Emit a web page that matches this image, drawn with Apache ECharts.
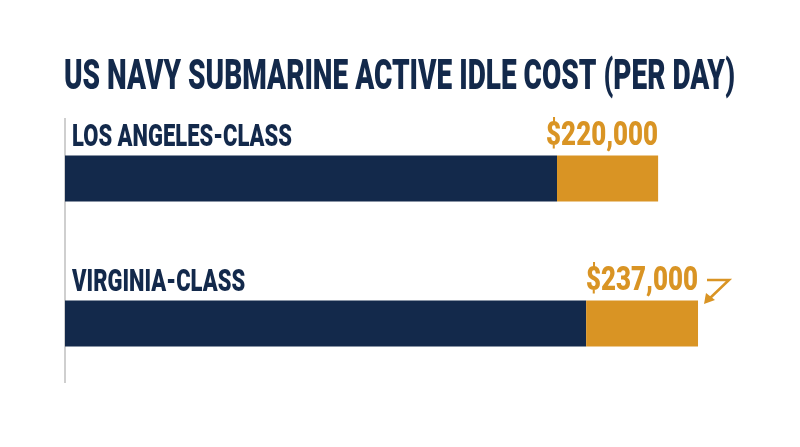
<!DOCTYPE html>
<html>
<head>
<meta charset="utf-8">
<script src="https://cdn.jsdelivr.net/npm/echarts@6/dist/echarts.min.js"></script>
<style>
html,body{margin:0;padding:0;background:#fff;}
#main{width:800px;height:447px;}
</style>
</head>
<body>
<div id="main"></div>
<script>
var chart = echarts.init(document.getElementById('main'));

var titleText = 'US NAVY SUBMARINE ACTIVE IDLE COST (PER DAY)';
var classes = ['LOS ANGELES-CLASS', 'VIRGINIA-CLASS'];
var baseCost = [182500, 193300];   // navy part
var extraCost = [37500, 41500];    // gold part
var totals = [220000, 237000];     // labels

var navy = '#13294b';
var gold = '#d99424';
var titleFont = '900 42px Roboto';
var catFont = '900 31px Roboto';
var valFont = '900 34px Roboto';

function money(v) { return '$' + v.toLocaleString('en-US'); }

// squeeze a normal font into the narrow poster look
var ctx = document.createElement('canvas').getContext('2d');
function squeeze(text, font, target) {
    ctx.font = font;
    return target / ctx.measureText(text).width;
}
var titleSx = squeeze(titleText, titleFont, 671);
var catSx = squeeze(classes[0], catFont, 220);
var valSx = squeeze(money(totals[0]), valFont, 112);

var labelData = classes.map(function (c, i) {
    return [baseCost[i] + extraCost[i], i];
});

var option = {
    backgroundColor: '#fff',
    animation: false,
    grid: {
        left: 65,
        width: 674,
        top: 106,
        height: 290
    },
    xAxis: {
        type: 'value',
        min: 0,
        max: 250000,
        show: false
    },
    yAxis: {
        type: 'category',
        inverse: true,
        data: classes,
        axisLine: {show: false},
        axisTick: {show: false},
        axisLabel: {show: false}
    },
    series: [
        {
            name: 'base',
            type: 'bar',
            stack: 'cost',
            barWidth: 46,
            itemStyle: {color: navy},
            data: baseCost
        },
        {
            name: 'extra',
            type: 'bar',
            stack: 'cost',
            barWidth: 46,
            itemStyle: {color: gold},
            data: extraCost
        },
        {
            name: 'labels',
            type: 'custom',
            encode: {x: 0, y: 1},
            data: labelData,
            z: 10,
            renderItem: function (params, api) {
                var i = params.dataIndex;
                var start = api.coord([0, i]);
                var end = api.coord([api.value(0), i]);
                var barTop = start[1] - 23;
                return {
                    type: 'group',
                    children: [
                        {
                            type: 'text',
                            x: start[0] + 7,
                            y: barTop - 17,
                            scaleX: catSx,
                            style: {
                                text: classes[i],
                                font: catFont,
                                fill: navy,
                                align: 'left',
                                verticalAlign: 'middle'
                            }
                        },
                        {
                            type: 'text',
                            x: end[0],
                            y: barTop - 19,
                            scaleX: valSx,
                            style: {
                                text: money(totals[i]),
                                font: valFont,
                                fill: gold,
                                align: 'right',
                                verticalAlign: 'middle'
                            }
                        }
                    ]
                };
            }
        }
    ],
    graphic: [
        {
            type: 'text',
            left: 64,
            top: 57,
            scaleX: titleSx,
            style: {
                text: titleText,
                font: titleFont,
                fill: navy
            }
        },
        {   // left axis line
            type: 'line',
            shape: {x1: 65, y1: 118, x2: 65, y2: 383},
            style: {stroke: '#cfcfcf', lineWidth: 2}
        },
        {   // arrow
            type: 'polyline',
            shape: {points: [[707, 280], [729, 280], [708, 300]]},
            style: {stroke: gold, lineWidth: 2.5, fill: null}
        },
        {
            type: 'polygon',
            shape: {points: [[704, 304], [706, 293], [715, 300]]},
            style: {fill: gold}
        }
    ]
};

chart.setOption(option);
window.addEventListener('resize', function () {
    chart.resize();
});
</script>
</body>
</html>
